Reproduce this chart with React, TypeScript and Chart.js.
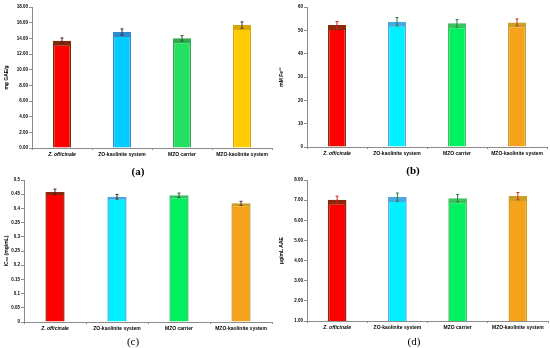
import React, { useEffect, useRef } from "react";
import { Chart, registerables } from "chart.js";
Chart.register(...registerables);

const categories = ["Z. officinale", "ZO-kaolinite system", "MZO carrier", "MZO-kaolinite system"];

const tpcValues = [13.7, 14.8, 14.0, 15.7];
const tpcErrors = [0.35, 0.4, 0.35, 0.4];
const frapValues = [52.3, 53.7, 53.0, 53.4];
const frapErrors = [1.5, 1.8, 1.6, 1.5];
const ic50Values = [0.458, 0.441, 0.446, 0.418];
const ic50Errors = [0.01, 0.008, 0.008, 0.007];
const aaeValues = [7.02, 7.15, 7.1, 7.2];
const aaeErrors = [0.18, 0.2, 0.18, 0.18];

const panelLabels = ["(a)", "(b)", "(c)", "(d)"];
const yTitles = ["mg GAE/g", "mM Fe²⁺", "IC₅₀ (mg/mL)", "µg/mL AAE"];

const errorBarPlugin = {
  id: "errorBars",
  afterDatasetsDraw(chart: any, _args: any, opts: any) {
    const errs: number[] = opts.errors || [];
    const colors: string[] = opts.colors || [];
    const meta = chart.getDatasetMeta(0);
    const y = chart.scales.y;
    const ctx = chart.ctx;
    ctx.save();
    meta.data.forEach((bar: any, i: number) => {
      const v = chart.data.datasets[0].data[i] as number;
      const top = y.getPixelForValue(v + errs[i]);
      const bot = y.getPixelForValue(v - errs[i]);
      ctx.strokeStyle = colors[i];
      ctx.lineWidth = 1;
      ctx.beginPath();
      ctx.moveTo(bar.x, top);
      ctx.lineTo(bar.x, bot);
      ctx.moveTo(bar.x - 1.5, top);
      ctx.lineTo(bar.x + 1.5, top);
      ctx.moveTo(bar.x - 1.5, bot);
      ctx.lineTo(bar.x + 1.5, bot);
      ctx.stroke();
    });
    ctx.restore();
  },
};

type PanelProps = {
  values: number[];
  errors: number[];
  fills: string[];
  borders: string[];
  errColors: string[];
  yMin: number;
  yMax: number;
  step: number;
  fmt: (v: number) => string;
  yTitle: string;
  plotLeft: number;
  plotRight: number;
  plotTop: number;
  plotBottom: number;
  barPct: number;
  topBand: number;
};

const W = 275;
const H = 174;
const SANS = "'Liberation Sans', Arial, sans-serif";

function Panel(p: PanelProps) {
  const ref = useRef<HTMLCanvasElement | null>(null);
  useEffect(() => {
    if (!ref.current) return;
    const chart = new Chart(ref.current, {
      type: "bar",
      data: {
        labels: categories,
        datasets: [
          {
            data: p.values,
            backgroundColor: p.fills,
            borderColor: p.borders,
            borderWidth: { top: p.topBand, left: 1.5, right: 1.5, bottom: 0 } as any,
            borderSkipped: false as any,
            categoryPercentage: 1,
            barPercentage: p.barPct,
          },
        ],
      },
      plugins: [errorBarPlugin as any],
      options: {
        animation: false,
        responsive: false,
        events: [],
        layout: { padding: { top: p.plotTop, right: W - p.plotRight, left: 0, bottom: 0 } },
        plugins: {
          legend: { display: false },
          tooltip: { enabled: false },
          title: { display: false },
          errorBars: { errors: p.errors, colors: p.errColors },
        } as any,
        scales: {
          x: {
            afterFit: (s: any) => {
              s.height = H - p.plotBottom;
            },
            border: { color: "#8c8c8c", width: 1 },
            grid: { display: true, drawOnChartArea: false, offset: true, tickLength: 2, color: "#8c8c8c" },
            ticks: {
              color: "#000",
              padding: 2,
              maxRotation: 0,
              autoSkip: false,
              font: (ctx: any) => ({
                family: SANS,
                size: 5,
                weight: "bold",
                style: ctx.index === 0 ? "italic" : "normal",
              }),
            },
          },
          y: {
            min: p.yMin,
            max: p.yMax,
            afterFit: (s: any) => {
              s.width = p.plotLeft;
            },
            border: { color: "#8c8c8c", width: 1 },
            grid: { display: true, drawOnChartArea: false, tickLength: 3, color: "#8c8c8c" },
            ticks: {
              stepSize: p.step,
              color: "#000",
              padding: 1,
              font: { family: SANS, size: 4.5, weight: "bold" },
              callback: (v: any) => p.fmt(Number(v)),
            },
            title: {
              display: true,
              text: p.yTitle,
              color: "#000",
              font: { family: SANS, size: 5, weight: "bold" },
              padding: { top: 4, bottom: 0 },
            },
          },
        },
      },
    } as any);
    return () => chart.destroy();
  }, []);
  return <canvas ref={ref} width={W} height={H} style={{ display: "block", width: W, height: H }} />;
}

const fills = ["#ff0000", "#00f0ff", "#00f060", "#f7a21b"];
const tops = ["#8a2a0c", "#4aa8e0", "#3cc060", "#c8a028"];
const fillsA = ["#ff0000", "#00ccff", "#22e060", "#ffcc00"];
const topsA = ["#7b2a0a", "#2f8ad0", "#2fa850", "#d8a800"];
const errRG = ["#d02020", "#208040", "#208040", "#c83020"];
const errDark = ["#552020", "#333333", "#305530", "#553030"];

const labelPos = [
  { x: 138, y: 171, bold: true },
  { x: 413, y: 170, bold: true },
  { x: 133, y: 341, bold: false },
  { x: 414, y: 341, bold: false },
];

export default function App() {
  return (
    <div style={{ position: "absolute", left: 0, top: 0, width: 550, height: 348, background: "#fff", overflow: "hidden" }}>
      <div style={{ position: "absolute", left: 0, top: 0 }}>
        <Panel values={tpcValues} errors={tpcErrors} fills={fillsA} borders={topsA} errColors={errDark}
          yMin={0} yMax={18} step={2} fmt={(v) => v.toFixed(2)} yTitle={yTitles[0]}
          plotLeft={32} plotRight={272} plotTop={7} plotBottom={148} barPct={0.3} topBand={5} />
      </div>
      <div style={{ position: "absolute", left: 275, top: 0 }}>
        <Panel values={frapValues} errors={frapErrors} fills={fills} borders={tops} errColors={errRG}
          yMin={0} yMax={60} step={10} fmt={(v) => String(Math.round(v))} yTitle={yTitles[1]}
          plotLeft={32} plotRight={272} plotTop={7} plotBottom={147} barPct={0.3} topBand={5} />
      </div>
      <div style={{ position: "absolute", left: 0, top: 174 }}>
        <Panel values={ic50Values} errors={ic50Errors} fills={fills} borders={tops} errColors={errDark}
          yMin={0} yMax={0.5} step={0.05} fmt={(v) => String(parseFloat(v.toFixed(2)))} yTitle={yTitles[2]}
          plotLeft={24} plotRight={272} plotTop={6} plotBottom={148} barPct={0.31} topBand={3} />
      </div>
      <div style={{ position: "absolute", left: 275, top: 174 }}>
        <Panel values={aaeValues} errors={aaeErrors} fills={fills} borders={tops} errColors={errRG}
          yMin={1} yMax={8} step={1} fmt={(v) => v.toFixed(2)} yTitle={yTitles[3]}
          plotLeft={32} plotRight={273} plotTop={6} plotBottom={147} barPct={0.31} topBand={5} />
      </div>
      {labelPos.map((l, i) => (
        <div key={i} style={{
          position: "absolute", left: l.x - 20, width: 40, top: l.y - 7, height: 14, lineHeight: "14px",
          textAlign: "center", fontFamily: "'Liberation Serif', 'Times New Roman', serif",
          fontSize: 11, fontWeight: l.bold ? "bold" : "normal", color: "#000",
        }}>{panelLabels[i]}</div>
      ))}
    </div>
  );
}
